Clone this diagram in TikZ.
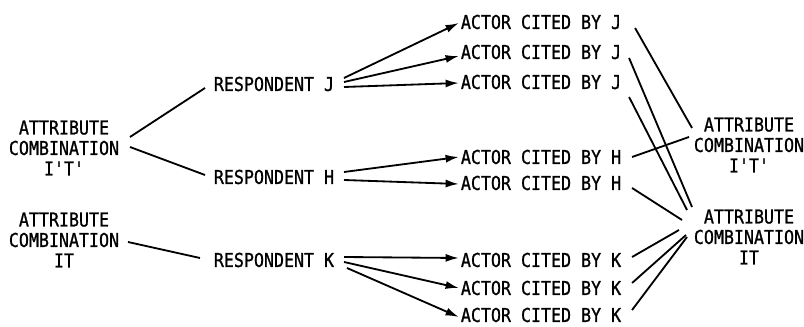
\documentclass[tikz,border=0pt]{standalone}
\usepackage{fontspec}
\newfontfamily\diagfont{DejaVu Sans Mono}[FakeStretch=0.87,FakeBold=1]
\usetikzlibrary{arrows.meta}

\begin{document}
\begin{tikzpicture}[scale=1,
  line width=1.3pt,
  main node/.style={inner sep=0pt,font=\diagfont\fontsize{13.6}{14.6}\selectfont},
  attr node/.style={main node,align=center},
  cite/.style={-{Latex[length=3.3mm,width=2mm]}}]

  \useasboundingbox (0,0) rectangle (20.1,8.175);

  % attribute combinations (left)
  \node[attr node] (1) at (1.6,4.475) {ATTRIBUTE\\COMBINATION\\I'T'};
  \node[attr node] (2) at (1.6,2.175) {ATTRIBUTE\\COMBINATION\\IT};

  % respondents
  \node[main node,anchor=west] (3) at (5.325,6.075) {RESPONDENT J};
  \node[main node,anchor=west] (4) at (5.325,3.75) {RESPONDENT H};
  \node[main node,anchor=west] (5) at (5.325,1.675) {RESPONDENT K};

  % actors cited
  \node[main node,anchor=west] (6) at (11.5,7.625) {ACTOR CITED BY J};
  \node[main node,anchor=west] (7) at (11.5,6.875) {ACTOR CITED BY J};
  \node[main node,anchor=west] (8) at (11.5,6.125) {ACTOR CITED BY J};
  \node[main node,anchor=west] (9) at (11.5,4.25) {ACTOR CITED BY H};
  \node[main node,anchor=west] (10) at (11.5,3.6) {ACTOR CITED BY H};
  \node[main node,anchor=west] (11) at (11.5,1.675) {ACTOR CITED BY K};
  \node[main node,anchor=west] (12) at (11.5,0.975) {ACTOR CITED BY K};
  \node[main node,anchor=west] (13) at (11.5,0.3) {ACTOR CITED BY K};

  % attribute combinations (right)
  \node[attr node] (14) at (18.725,4.55) {ATTRIBUTE\\COMBINATION\\I'T'};
  \node[attr node] (15) at (18.725,2.25) {ATTRIBUTE\\COMBINATION\\IT};

  \path
   ([shift={(0.25,0.275)}]1.east) edge ([shift={(-0.2,-0.1)}]3.west)
   ([shift={(0.25,0.025)}]1.east) edge ([shift={(-0.2,0.05)}]4.west)
   ([shift={(0.2,-0.05)}]2.east) edge ([shift={(-0.325,0.05)}]5.west);

  \path[every edge/.style={draw,cite}]
   ([shift={(0.225,0.15)}]3.east) edge ([shift={(-0.03,-0.025)}]6.west)
   ([shift={(0.225,0.05)}]3.east) edge ([shift={(-0.03,-0.1)}]7.west)
   ([shift={(0.225,-0.075)}]3.east) edge ([shift={(-0.03,-0.025)}]8.west)
   ([shift={(0.225,0.125)}]4.east) edge ([shift={(-0.03,0)}]9.west)
   ([shift={(0.225,-0.075)}]4.east) edge ([shift={(-0.03,-0.025)}]10.west)
   ([shift={(0.225,0.075)}]5.east) edge ([shift={(-0.03,0.05)}]11.west)
   ([shift={(0.225,-0.05)}]5.east) edge ([shift={(-0.03,0)}]12.west)
   ([shift={(0.3,-0.2)}]5.east) edge ([shift={(-0.03,-0.05)}]13.west);

  \path
   ([shift={(0.325,-0.15)}]6.east) edge ([shift={(-0.025,0.425)}]14.west)
   ([shift={(0.175,-0.15)}]7.east) edge ([shift={(-0.025,0.75)}]15.west)
   ([shift={(0.175,-0.375)}]8.east) edge ([shift={(-0.15,0.675)}]15.west)
   ([shift={(0.25,0)}]9.east) edge ([shift={(-0.1,0.2)}]14.west)
   ([shift={(0.25,-0.125)}]10.east) edge ([shift={(-0.275,0.425)}]15.west)
   ([shift={(0.25,0.075)}]11.east) edge ([shift={(-0.35,0.175)}]15.west)
   ([shift={(0.25,0.125)}]12.east) edge ([shift={(-0.175,0.05)}]15.west)
   ([shift={(0.25,0.125)}]13.east) edge ([shift={(-0.15,0)}]15.west);
\end{tikzpicture}
\end{document}
